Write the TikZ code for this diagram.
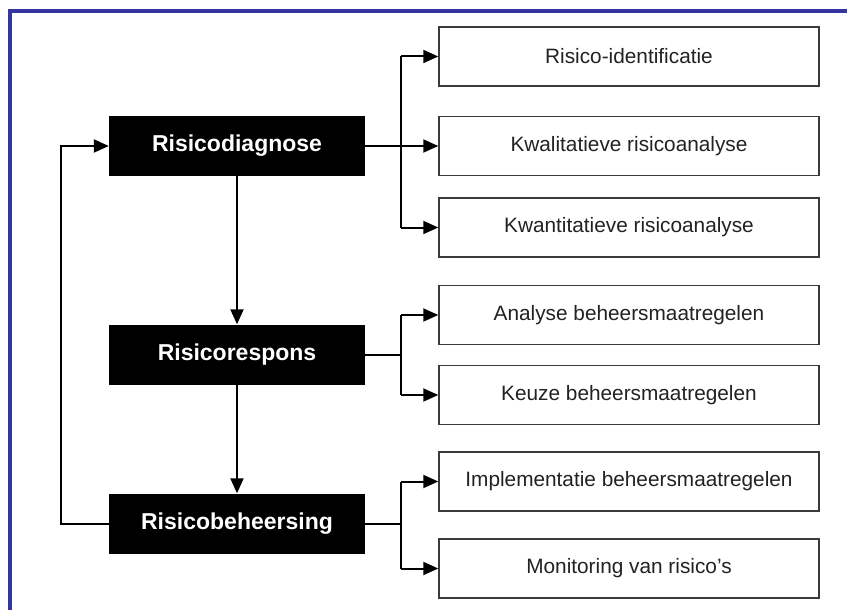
\documentclass[tikz,border=0pt]{standalone}
\usepackage{fontspec}
\setmainfont{Liberation Sans}
\usetikzlibrary{arrows.meta}
\definecolor{frameblue}{HTML}{3535A0}
\definecolor{boxline}{HTML}{3A3A3A}
\definecolor{txt}{HTML}{222222}
\begin{document}
\begin{tikzpicture}[x=1pt,y=-1pt,
  mainbox/.style={fill=black, draw=none, minimum width=256pt, minimum height=60pt, inner sep=0pt,
    text=white, font=\fontsize{23}{26}\selectfont\bfseries},
  subbox/.style={draw=boxline, line width=1.5pt, fill=white, minimum width=380pt, minimum height=59pt, inner sep=0pt,
    text=txt, font=\fontsize{20.8}{24}\selectfont},
  conn/.style={line width=2pt, black},
  arr/.style={conn, -{Triangle[length=15pt,width=13pt]}}]
\useasboundingbox (0,0) rectangle (847,610);
\fill[white] (0,0) rectangle (847,610);
% frame
\fill[frameblue] (8,9) rectangle (847,12.7);
\fill[frameblue] (8,9) rectangle (12,610);
% main nodes
\node[mainbox] (diag) at (237,146) {Risicodiagnose};
\node[mainbox] (resp) at (237,354.5) {Risicorespons};
\node[mainbox] (beh) at (237,523.5) {Risicobeheersing};
% sub nodes
\node[subbox] (s1) at (629,56.5) {Risico-identificatie};
\node[subbox] (s2) at (629,146) {Kwalitatieve risicoanalyse};
\node[subbox] (s3) at (629,227.5) {Kwantitatieve risicoanalyse};
\node[subbox] (s4) at (629,315) {Analyse beheersmaatregelen};
\node[subbox] (s5) at (629,395) {Keuze beheersmaatregelen};
\node[subbox] (s6) at (629,481.5) {Implementatie beheersmaatregelen};
\node[subbox] (s7) at (629,568.5) {Monitoring van risico’s};
% coordinates
\coordinate (bx) at (401,0);
\coordinate (lx) at (61,0);
% vertical flow
\draw[arr] (diag.south) -- (resp.north);
\draw[arr] (resp.south) -- (beh.north);
% feedback loop
\draw[arr] (beh.west) -- (beh.west -| lx) -- (diag.west -| lx) -- (diag.west);
% branches group 1
\draw[arr] (diag.east) -- (s2.west);
\draw[conn] (s1.west -| bx) -- (s3.west -| bx);
\draw[arr] (s1.west -| bx) -- (s1.west);
\draw[arr] (s3.west -| bx) -- (s3.west);
% group 2
\draw[conn] (resp.east) -- (resp.east -| bx);
\draw[conn] (s4.west -| bx) -- (s5.west -| bx);
\draw[arr] (s4.west -| bx) -- (s4.west);
\draw[arr] (s5.west -| bx) -- (s5.west);
% group 3
\draw[conn] (beh.east) -- (beh.east -| bx);
\draw[conn] (s6.west -| bx) -- (s7.west -| bx);
\draw[arr] (s6.west -| bx) -- (s6.west);
\draw[arr] (s7.west -| bx) -- (s7.west);
\end{tikzpicture}
\end{document}
